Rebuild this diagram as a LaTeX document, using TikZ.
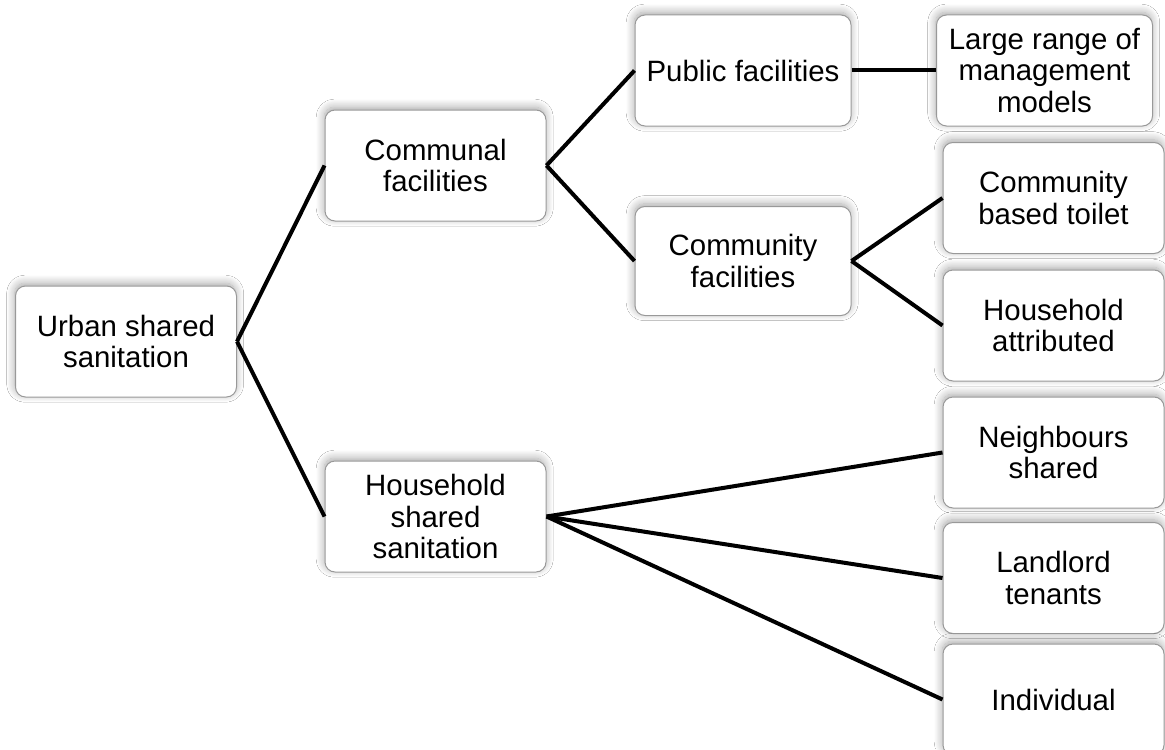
\documentclass[tikz,border=0pt]{standalone}
\usepackage{fontspec}
\setmainfont{Liberation Sans}
\usetikzlibrary{shadows.blur}
\begin{document}
\begin{tikzpicture}[x=0.5pt,y=-0.5pt,
  box/.style={draw=black!40, line width=0.5pt, fill=white, rounded corners=5pt,
    inner sep=0pt, minimum width=110.5pt, minimum height=55.5pt, align=center,
    font=\fontsize{14.7pt}{15.6pt}\selectfont,
    blur shadow={shadow xshift=-0.4pt, shadow yshift=1.4pt, shadow blur radius=4pt,
      shadow opacity=35, shadow blur steps=10}},
  narrow/.style={minimum width=108pt},
  link/.style={line width=2pt, black}]
\useasboundingbox (0,0) rectangle (1165,749);
\fill[white] (0,0) rectangle (1165,749);

% first level
\node[box] (urban) at (126,341.5) {Urban shared\\sanitation};
% second level
\node[box] (communal) at (435.5,165.5) {Communal\\facilities};
\node[box] (hshared) at (435.5,516.5) {Household\\shared\\sanitation};
% third level
\node[box,narrow] (public) at (743,70.5) {Public facilities};
\node[box,narrow,minimum height=54.5pt] (commfac) at (743,261) {Community\\facilities};
% leaves
\node[box,narrow] (large) at (1044.5,70.5) {Large range of\\management\\models};
\node[box] (cbt) at (1053.5,198) {Community\\based toilet};
\node[box] (hattr) at (1053.5,325.5) {Household\\attributed};
\node[box] (neigh) at (1053.5,452.5) {Neighbours\\shared};
\node[box] (land) at (1053.5,578) {Landlord\\tenants};
\node[box] (indiv) at (1053.5,699.5) {Individual};

% connectors
\draw[link] (urban.east) -- (communal.west);
\draw[link] (urban.east) -- (hshared.west);
\draw[link] (communal.east) -- (public.west);
\draw[link] (communal.east) -- (commfac.west);
\draw[link] (public.east) -- (large.west);
\draw[link] (commfac.east) -- (cbt.west);
\draw[link] (commfac.east) -- (hattr.west);
\draw[link] (hshared.east) -- (neigh.west);
\draw[link] (hshared.east) -- (land.west);
\draw[link] (hshared.east) -- (indiv.west);
\end{tikzpicture}
\end{document}
